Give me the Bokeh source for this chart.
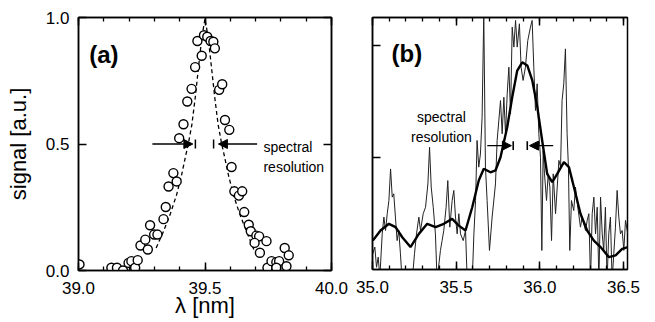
from bokeh.plotting import figure
from bokeh.layouts import row
from bokeh.models import (LinearAxis, SingleIntervalTicker, FixedTicker, NumeralTickFormatter,
                          Arrow, NormalHead, Label, Range1d)
from bokeh.embed import file_html
from bokeh.resources import INLINE

FONT = "Liberation Sans"

# ---------------- panel (a) data ----------------
a_x = [39.004, 39.130, 39.152, 39.176, 39.198, 39.209, 39.224, 39.234, 39.245, 39.264,
       39.274, 39.283, 39.299, 39.312, 39.336, 39.345, 39.356, 39.375, 39.388, 39.398,
       39.415, 39.430, 39.447, 39.461, 39.470, 39.487, 39.496, 39.509, 39.522, 39.533,
       39.539, 39.556, 39.568, 39.579, 39.596, 39.605, 39.616, 39.634, 39.647, 39.655,
       39.673, 39.681, 39.703, 39.714, 39.696, 39.717, 39.743, 39.747, 39.763, 39.782,
       39.793, 39.782, 39.815, 39.822, 39.831]
a_y = [0.024, 0.011, 0.011, 0.000, 0.030, 0.037, 0.011, 0.041, 0.099, 0.122,
       0.083, 0.179, 0.142, 0.142, 0.203, 0.251, 0.332, 0.385, 0.352, 0.523,
       0.578, 0.668, 0.718, 0.804, 0.907, 0.849, 0.930, 0.924, 0.907, 0.904,
       0.878, 0.714, 0.736, 0.595, 0.556, 0.409, 0.313, 0.296, 0.313, 0.231,
       0.181, 0.155, 0.138, 0.135, 0.109, 0.070, 0.116, 0.011, 0.037, 0.033,
       0.037, 0.011, 0.089, 0.017, 0.060]
fit_x = [39.307, 39.336, 39.362, 39.388, 39.408, 39.425, 39.434, 39.448, 39.461, 39.474,
         39.487, 39.500, 39.513, 39.526, 39.539, 39.552, 39.566, 39.575, 39.592, 39.612,
         39.638, 39.664, 39.693]
fit_y = [0.089, 0.155, 0.221, 0.300, 0.380, 0.460, 0.500, 0.576, 0.680, 0.800,
         0.917, 0.996, 0.917, 0.800, 0.680, 0.576, 0.500, 0.460, 0.380, 0.300,
         0.221, 0.155, 0.083]

# ---------------- panel (b) data ----------------
b_x = [35.002, 35.014, 35.024, 35.034, 35.044, 35.058, 35.068, 35.078, 35.088, 35.098,
       35.108, 35.118, 35.127, 35.137, 35.147, 35.157, 35.167, 35.177, 35.237, 35.251,
       35.263, 35.277, 35.287, 35.303, 35.317, 35.331, 35.341, 35.351, 35.363, 35.376,
       35.386, 35.406, 35.416, 35.426, 35.440, 35.450, 35.462, 35.476, 35.486, 35.496,
       35.506, 35.516, 35.526, 35.542, 35.556, 35.566, 35.596, 35.606, 35.616, 35.625,
       35.635, 35.645, 35.655, 35.665, 35.675, 35.685, 35.699, 35.715, 35.735, 35.745,
       35.765, 35.775, 35.785, 35.795, 35.805, 35.815, 35.825, 35.835, 35.845, 35.855,
       35.865, 35.878, 35.888, 35.900, 35.914, 35.928, 35.944, 35.954, 35.964, 35.974,
       35.984, 35.994, 36.004, 36.012, 36.020, 36.028, 36.040, 36.050, 36.060, 36.070,
       36.080, 36.094, 36.104, 36.114, 36.124, 36.133, 36.143, 36.153, 36.163, 36.171,
       36.179, 36.189, 36.203, 36.213, 36.227, 36.243, 36.253, 36.273, 36.283, 36.293,
       36.303, 36.313, 36.323, 36.333, 36.343, 36.353, 36.363, 36.373, 36.382, 36.392,
       36.402, 36.412, 36.422, 36.432, 36.442, 36.452, 36.462, 36.472, 36.482, 36.492,
       36.502, 36.512, 36.526]
b_y = [0.070, 0.100, 0.010, 0.055, -0.034, 0.159, 0.234, 0.174, 0.249, 0.308,
       0.449, 0.323, 0.338, 0.234, 0.129, 0.174, 0.070, -0.050, -0.050, 0.070,
       0.159, 0.234, 0.174, 0.249, 0.278, 0.382, 0.546, 0.368, 0.278, 0.159,
       -0.050, 0.085, 0.129, 0.174, 0.278, 0.397, 0.189, 0.308, 0.353, 0.234,
       0.159, 0.249, 0.159, 0.129, 0.174, -0.050, -0.050, 0.159, 0.308, 0.576,
       0.457, 0.516, 0.680, 1.140, 0.457, 0.308, 0.085, 0.234, 0.382, 0.576,
       0.754, 0.606, 0.769, 0.606, 0.784, 0.903, 0.695, 1.082, 0.993, 1.112,
       0.993, 1.097, 0.903, 0.844, 0.903, 1.022, 1.082, 1.112, 0.903, 0.710,
       0.829, 0.606, 0.501, 0.085, 0.531, 0.427, 0.308, 0.427, 0.368, 0.129,
       0.427, 0.249, 0.368, 0.487, 0.457, 0.754, 0.829, 0.985, 0.606, 0.457,
       0.085, 0.308, 0.263, 0.368, 0.278, 0.189, 0.234, 0.174, 0.219, 0.249,
       -0.050, 0.249, 0.323, 0.159, 0.278, -0.050, 0.323, 0.159, 0.085, 0.278,
       -0.050, 0.159, 0.234, -0.050, 0.070, 0.189, 0.353, 0.234, 0.159, 0.174,
       0.085, 0.219, 0.159]
s_x = [35.002, 35.048, 35.098, 35.138, 35.178, 35.227, 35.277, 35.327, 35.377, 35.426,
       35.476, 35.516, 35.556, 35.596, 35.635, 35.665, 35.705, 35.735, 35.765, 35.805,
       35.835, 35.865, 35.895, 35.925, 35.955, 35.985, 36.014, 36.044, 36.074, 36.104,
       36.144, 36.174, 36.204, 36.243, 36.283, 36.323, 36.363, 36.413, 36.453, 36.492,
       36.526]
s_y = [0.129, 0.174, 0.204, 0.189, 0.144, 0.100, 0.159, 0.204, 0.189, 0.204,
       0.226, 0.196, 0.174, 0.278, 0.397, 0.450, 0.434, 0.442, 0.501, 0.635,
       0.769, 0.888, 0.925, 0.911, 0.844, 0.725, 0.576, 0.427, 0.390, 0.427,
       0.479, 0.457, 0.367, 0.249, 0.174, 0.129, 0.100, 0.055, 0.063, 0.092,
       0.100]

# resolution markers: [left arrow tail, left arrow tip, bar1, bar2, right arrow tip, right arrow tail]
a_res = [39.292, 39.452, 39.462, 39.534, 39.553, 39.706]
a_res_y = 0.5
b_res = [35.686, 35.830, 35.841, 35.925, 35.938, 36.080]
b_res_y = 0.553

y_ticks_a = [0.0, 0.5, 1.0]
y_ticks_b = [0.5, 1.0]


def style_axis(ax, labels=True):
    ax.major_tick_in = 8
    ax.major_tick_out = 0
    ax.minor_tick_in = 4
    ax.minor_tick_out = 0
    ax.axis_line_width = 1.5
    ax.axis_line_color = "black"
    ax.major_tick_line_width = 1.5
    ax.minor_tick_line_width = 1.3
    ax.major_tick_line_color = "black"
    ax.minor_tick_line_color = "black"
    ax.major_label_text_font = FONT
    ax.axis_label_text_font = FONT
    ax.axis_label_text_font_style = "normal"
    ax.axis_label_text_font_size = "22px"
    ax.axis_label_text_color = "black"
    if labels:
        ax.major_label_text_font_size = "17px"
        ax.major_label_text_color = "black"
    else:
        ax.major_label_text_font_size = "1px"
        ax.major_label_text_color = None
        ax.major_label_standoff = 0


def base_fig(xr, yr, fw, fh, left, right, top, bottom):
    p = figure(frame_width=fw, frame_height=fh, x_range=Range1d(*xr), y_range=Range1d(*yr),
               output_backend="svg", toolbar_location=None,
               min_border_left=left, min_border_right=right,
               min_border_top=top, min_border_bottom=bottom)
    p.xgrid.visible = False
    p.ygrid.visible = False
    p.outline_line_color = "black"
    p.outline_line_width = 1.5
    p.background_fill_color = "white"
    p.border_fill_color = "white"
    return p


# ---------------- panel (a) ----------------
pa = base_fig((39.0, 40.0), (0.0, 1.0), 253, 253, 78, 17, 16, 53)
pa.xaxis[0].ticker = SingleIntervalTicker(interval=0.5, num_minor_ticks=5)
pa.xaxis[0].formatter = NumeralTickFormatter(format="0.0")
pa.yaxis[0].ticker = FixedTicker(ticks=y_ticks_a, minor_ticks=[])
pa.yaxis[0].formatter = NumeralTickFormatter(format="0.0")
style_axis(pa.xaxis[0])
style_axis(pa.yaxis[0])
pa.xaxis[0].axis_label = "λ [nm]"
pa.yaxis[0].axis_label = "signal [a.u.]"
pa.xaxis[0].major_label_standoff = 11
pa.xaxis[0].axis_label_standoff = -4
pa.yaxis[0].major_label_standoff = 9
pa.yaxis[0].axis_label_standoff = 12
top_a = LinearAxis(ticker=SingleIntervalTicker(interval=0.5, num_minor_ticks=5))
style_axis(top_a, labels=False)
pa.add_layout(top_a, "above")
right_a = LinearAxis(ticker=FixedTicker(ticks=y_ticks_a, minor_ticks=[]))
style_axis(right_a, labels=False)
pa.add_layout(right_a, "right")

pa.line(fit_x, fit_y, line_color="black", line_width=1.3, line_dash="4 3")
pa.scatter(a_x, a_y, marker="circle", size=9, fill_color="white", line_color="black", line_width=1.4)

pa.add_layout(Arrow(end=NormalHead(size=9, fill_color="black", line_color="black"),
                    x_start=a_res[0], y_start=a_res_y, x_end=a_res[1], y_end=a_res_y,
                    line_width=1.4, line_color="black"))
pa.add_layout(Arrow(end=NormalHead(size=9, fill_color="black", line_color="black"),
                    x_start=a_res[5], y_start=a_res_y, x_end=a_res[4], y_end=a_res_y,
                    line_width=1.4, line_color="black"))
pa.segment(x0=[a_res[2], a_res[3]], y0=[a_res_y - 0.018] * 2,
           x1=[a_res[2], a_res[3]], y1=[a_res_y + 0.018] * 2, line_color="black", line_width=1.5)
pa.add_layout(Label(x=39.731, y=0.49, text="spectral", text_font=FONT, text_font_size="14px",
                    text_baseline="middle", text_align="left", text_color="black"))
pa.add_layout(Label(x=39.731, y=0.411, text="resolution", text_font=FONT, text_font_size="14px",
                    text_baseline="middle", text_align="left", text_color="black"))
pa.add_layout(Label(x=39.100, y=0.854, text="(a)", text_font=FONT, text_font_size="24px",
                    text_font_style="bold", text_baseline="middle", text_align="center",
                    text_color="black"))

# ---------------- panel (b) ----------------
pb = base_fig((35.0, 36.524), (0.0, 1.125), 255, 252, 24, 31, 17, 53)
pb.xaxis[0].ticker = SingleIntervalTicker(interval=0.5, num_minor_ticks=5)
pb.xaxis[0].formatter = NumeralTickFormatter(format="0.0")
pb.yaxis[0].ticker = FixedTicker(ticks=y_ticks_b, minor_ticks=[])
style_axis(pb.xaxis[0])
style_axis(pb.yaxis[0], labels=False)
pb.xaxis[0].major_label_standoff = 11
top_b = LinearAxis(ticker=SingleIntervalTicker(interval=0.5, num_minor_ticks=5))
style_axis(top_b, labels=False)
pb.add_layout(top_b, "above")

pb.line(b_x, b_y, line_color="#222222", line_width=1.0)
pb.line(s_x, s_y, line_color="black", line_width=2.4)

pb.add_layout(Arrow(end=NormalHead(size=9, fill_color="black", line_color="black"),
                    x_start=b_res[0], y_start=b_res_y, x_end=b_res[1], y_end=b_res_y,
                    line_width=1.4, line_color="black"))
pb.add_layout(Arrow(end=NormalHead(size=9, fill_color="black", line_color="black"),
                    x_start=b_res[5], y_start=b_res_y, x_end=b_res[4], y_end=b_res_y,
                    line_width=1.4, line_color="black"))
pb.segment(x0=[b_res[2], b_res[3]], y0=[b_res_y - 0.02] * 2,
           x1=[b_res[2], b_res[3]], y1=[b_res_y + 0.02] * 2, line_color="black", line_width=1.6)
pb.add_layout(Label(x=35.412, y=0.68, text="spectral", text_font=FONT, text_font_size="14px",
                    text_baseline="middle", text_align="center", text_color="black"))
pb.add_layout(Label(x=35.412, y=0.59, text="resolution", text_font=FONT, text_font_size="14px",
                    text_baseline="middle", text_align="center", text_color="black"))
pb.add_layout(Label(x=35.205, y=0.964, text="(b)", text_font=FONT, text_font_size="24px",
                    text_font_style="bold", text_baseline="middle", text_align="center",
                    text_color="black"))
pb.add_layout(Label(x=36.08, y=-0.17, text="λ [nm]", text_font=FONT, text_font_size="22px",
                    text_baseline="middle", text_align="center", text_color="black"))

layout = row(pa, pb, spacing=0)
open("out.html", "w").write(file_html(layout, INLINE))
